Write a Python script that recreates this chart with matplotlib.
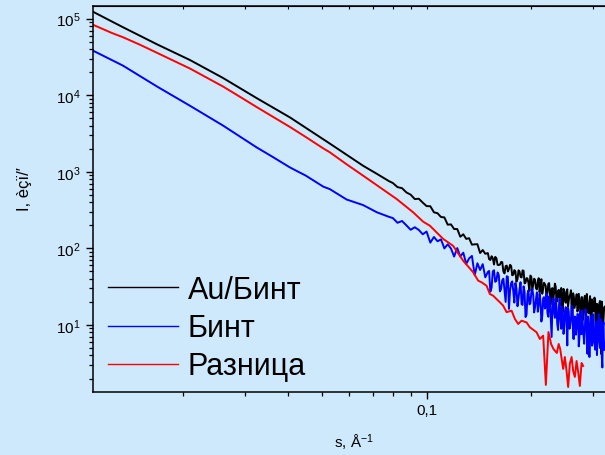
import matplotlib
matplotlib.use('Agg')
import matplotlib.pyplot as plt
from matplotlib.ticker import FixedLocator, FixedFormatter, LogLocator, NullFormatter, LogFormatterSciNotation
import numpy as np

# ---------------- data ----------------
s_low = [0.011, 0.0125, 0.0134, 0.015, 0.0168, 0.019, 0.0209, 0.023, 0.026, 0.029,
         0.0325, 0.036, 0.0405, 0.045, 0.0505, 0.0527, 0.0589, 0.0657, 0.072, 0.078]

black_low = [1.23e5, 9.12e4, 7.74e4, 5.98e4, 4.62e4, 3.54e4, 2.88e4, 2.27e4, 1.68e4, 1.25e4,
             9160, 7000, 5130, 3750, 2660, 2340, 1670, 1200, 940, 755]
blue_low = [3.82e4, 2.86e4, 2.44e4, 1.78e4, 1.30e4, 9370, 7280, 5610, 4020, 2910,
            2080, 1580, 1140, 890, 640, 595, 435, 368, 296, 258]
red_low = [8.32e4, 6.46e4, 5.73e4, 4.57e4, 3.58e4, 2.74e4, 2.23e4, 1.76e4, 1.30e4, 9620,
           7000, 5300, 3850, 2840, 2020, 1800, 1255, 891, 667, 518]

s_grid = [0.0800, 0.0825, 0.0850, 0.0875, 0.0900, 0.0925, 0.0950, 0.0975, 0.1000, 0.1025,
          0.1050, 0.1075, 0.1100, 0.1125, 0.1150, 0.1175, 0.1200, 0.1225, 0.1250, 0.1275,
          0.1300, 0.1325, 0.1350, 0.1375, 0.1400, 0.1425, 0.1450, 0.1475, 0.1500, 0.1525,
          0.1550, 0.1575, 0.1600, 0.1625, 0.1650, 0.1675, 0.1700, 0.1725, 0.1750, 0.1775,
          0.1800, 0.1825, 0.1850, 0.1875, 0.1900, 0.1925, 0.1950, 0.1975, 0.2000, 0.2025,
          0.2050, 0.2075, 0.2100, 0.2125, 0.2150, 0.2175, 0.2200, 0.2225, 0.2250, 0.2275,
          0.2300, 0.2325, 0.2350, 0.2375, 0.2400, 0.2425, 0.2450, 0.2475, 0.2500, 0.2525,
          0.2550, 0.2575, 0.2600, 0.2625, 0.2650, 0.2675, 0.2700, 0.2725, 0.2750, 0.2775,
          0.2800, 0.2825, 0.2850, 0.2875, 0.2900, 0.2925, 0.2950, 0.2975, 0.3000, 0.3025,
          0.3050, 0.3075, 0.3100, 0.3125, 0.3150, 0.3175, 0.3200, 0.3225, 0.3250]

black_grid = [714, 631, 612, 538, 503, 441, 445, 396, 357, 355,
              296, 288, 257, 254, 204, 206, 179, 179, 142, 153,
              133, 136, 112, 113, 113.5, 87.0, 95.3, 85.0, 86.9, 70.5,
              74.6, 77.4, 60.9, 61.4, 66.2, 47.1, 59.6, 53.7, 58.9, 45.5,
              50.1, 39.7, 49.8, 41.8, 50.9, 35.8, 40.4, 27.9, 42.6, 33.7,
              38.8, 29.1, 40.9, 32.0, 25.6, 35.6, 32.2, 26.2, 35.2, 18.6,
              30.3, 25.9, 31.6, 20.9, 28.7, 25.1, 17.8, 29.6, 20.9, 27.0,
              17.3, 23.8, 28.4, 13.3, 23.4, 18.9, 25.2, 15.9, 20.6, 10.4,
              23.0, 16.4, 24.0, 12.7, 19.4, 14.2, 23.8, 6.0, 19.9, 15.5,
              20.9, 10.1, 18.0, 11.4, 20.6, 4.2, 16.4, 12.1, 17.3]

blue_grid = [249, 216, 228, 200, 175, 189, 174, 153, 166, 119,
             141, 124, 131, 100, 113, 100, 78.3, 101, 78.5, 87.9,
             62.8, 74.0, 79.8, 44.7, 64.0, 52.3, 62.3, 41.9, 49.2, 27.3,
             50.1, 36.6, 48.5, 27.5, 38.4, 28.5, 43.3, 16.2, 35.2, 27.5,
             35.2, 17.6, 29.4, 18.7, 32.0, 12.7, 25.3, 18.6, 26.4, 24.7,
             17.1, 26.7, 18.3, 20.3, 13.1, 23.1, 17.8, 14.3, 23.6, 12.2,
             17.5, 14.7, 22.4, 10.2, 16.5, 11.8, 17.3, 7.66, 15.6, 11.1,
             16.7, 8.92, 12.1, 16.7, 6.56, 12.7, 9.88, 13.8, 6.98, 11.0,
             15.5, 7.35, 8.68, 13.2, 4.20, 11.3, 8.61, 13.2, 6.03, 9.31,
             4.76, 11.0, 6.80, 13.9, 5.01, 7.89, 2.79, 10.8, 5.75]

s_mid = [0.15125, 0.15375, 0.15625, 0.15875, 0.16125, 0.16375, 0.16625, 0.16875, 0.17125, 0.17375,
         0.17625, 0.17875, 0.18125, 0.18375, 0.18625, 0.18875, 0.19125, 0.19375, 0.19625, 0.19875,
         0.20125, 0.20375, 0.20625, 0.20875, 0.21125, 0.21375, 0.21625, 0.21875, 0.22125, 0.22375,
         0.22625, 0.22875, 0.23125, 0.23375, 0.23625, 0.23875, 0.24125, 0.24375, 0.24625, 0.24875,
         0.25125, 0.25375, 0.25625, 0.25875, 0.26125, 0.26375, 0.26625, 0.26875, 0.27125, 0.27375,
         0.27625, 0.27875, 0.28125, 0.28375, 0.28625, 0.28875, 0.29125, 0.29375, 0.29625, 0.29875,
         0.30125, 0.30375, 0.30625, 0.30875, 0.31125, 0.31375, 0.31625, 0.31875, 0.32125, 0.32375]

black_mid = [72.5, 79.0, 61.6, 74.3, 60.6, 66.4, 49.8, 58.7, 50.0, 61.0,
             44.6, 52.0, 36.7, 51.7, 42.5, 51.7, 34.9, 41.0, 35.6, 44.2,
             28.4, 40.2, 30.2, 36.6, 26.7, 39.6, 29.4, 34.2, 20.4, 34.5,
             25.3, 29.8, 22.2, 34.7, 20.0, 28.2, 22.6, 30.4, 14.7, 27.7,
             19.5, 29.3, 21.2, 25.2, 14.8, 26.0, 16.7, 21.4, 15.0, 25.5,
             17.2, 23.1, 11.6, 20.9, 13.8, 25.4, 14.8, 19.0, 11.4, 21.6,
             15.0, 22.8, 8.67, 18.9, 12.0, 19.2, 14.2, 20.2, 8.79, 16.7]

blue_mid = [50.8, 30.6, 51.9, 37.8, 44.8, 29.5, 40.2, 20.0, 42.6, 28.2,
            37.1, 19.6, 30.0, 22.3, 36.2, 18.3, 27.2, 13.6, 28.3, 19.2,
            29.6, 14.6, 21.8, 14.9, 25.7, 11.1, 22.3, 16.4, 25.6, 12.8,
            21.1, 6.98, 22.1, 12.4, 17.2, 8.61, 22.1, 8.93, 14.6, 9.81,
            17.1, 5.41, 14.8, 9.84, 17.8, 6.66, 12.9, 7.47, 13.9, 5.26,
            15.1, 7.58, 10.1, 5.69, 16.0, 7.94, 12.9, 3.82, 10.3, 5.36,
            13.8, 5.85, 9.08, 4.05, 10.7, 6.19, 11.9, 3.97, 9.47, 4.71]

red_mid_s = [0.082, 0.0915, 0.0978, 0.1022, 0.1116, 0.1192, 0.1274, 0.1361, 0.1407, 0.1439,
             0.1487, 0.1520, 0.1554, 0.1589, 0.1624, 0.1660, 0.1698, 0.1755, 0.1794, 0.1834,
             0.1875, 0.1938, 0.1981, 0.2071, 0.2116, 0.2163]
red_mid = [442, 296, 223, 198, 133, 108, 69.0, 48.8, 37.9, 36.1,
           32.6, 25.4, 24.1, 21.8, 19.8, 17.9, 14.7, 15.4, 12.0, 10.3,
           11.4, 10.8, 9.33, 8.03, 6.57, 7.25]

red_tail_s = [0.2202, 0.2240, 0.2280, 0.2315, 0.2368, 0.2397, 0.2421, 0.2469, 0.2497, 0.2525,
              0.2552, 0.2580, 0.2611, 0.2638, 0.2668, 0.2698, 0.2727, 0.2757, 0.2789, 0.2818]
red_tail = [1.65, 8.1, 5.65, 4.86, 4.31, 5.65, 4.86, 2.67, 3.82, 2.51,
            1.55, 3.10, 3.82, 2.51, 2.10, 3.39, 2.43, 1.60, 3.19, 2.92]

labels = ['Au/Бинт', 'Бинт', 'Разница']
x_major = [0.1]
x_major_labels = ['0,1']
y_major = [1e1, 1e2, 1e3, 1e4, 1e5]

# ---------------- styling ----------------
plt.rcParams['font.family'] = ['Liberation Sans', 'DejaVu Sans']
plt.rcParams['mathtext.fontset'] = 'custom'
plt.rcParams['mathtext.rm'] = 'Liberation Sans'
plt.rcParams['mathtext.it'] = 'Liberation Sans:italic'
plt.rcParams['mathtext.bf'] = 'Liberation Sans:bold'

BG = '#CEE9FB'
fig = plt.figure(figsize=(6.05, 4.56), dpi=100, facecolor=BG)
W, H = 605.0, 456.0
ax = fig.add_axes([93 / W, 63.3 / H, 576.8 / W, 385.4 / H])
ax.set_facecolor(BG)


def merged(s_parts, v_parts):
    s = np.concatenate([np.asarray(p, float) for p in s_parts])
    v = np.concatenate([np.asarray(p, float) for p in v_parts])
    order = np.argsort(s, kind='stable')
    return s[order], v[order]


s_black, I_black = merged([s_low, s_grid, s_mid], [black_low, black_grid, black_mid])
s_blue, I_blue = merged([s_low, s_grid, s_mid], [blue_low, blue_grid, blue_mid])
s_red, I_red = merged([s_low, red_mid_s, red_tail_s], [red_low, red_mid, red_tail])

ax.plot(s_black, I_black, color='#000000', lw=1.4, label=labels[0])
ax.plot(s_blue, I_blue, color='#0000FF', lw=1.4, label=labels[1])
ax.plot(s_red, I_red, color='#FF0000', lw=1.4, label=labels[2])

ax.set_xscale('log')
ax.set_yscale('log')
ax.set_xlim(0.011, 0.5)
ax.set_ylim(1.346, 1.449e5)

ax.xaxis.set_major_locator(FixedLocator(x_major))
ax.xaxis.set_major_formatter(FixedFormatter(x_major_labels))
ax.xaxis.set_minor_locator(LogLocator(base=10, subs=np.arange(2, 10)))
ax.xaxis.set_minor_formatter(NullFormatter())
ax.yaxis.set_major_locator(FixedLocator(y_major))
ax.yaxis.set_major_formatter(LogFormatterSciNotation())
ax.yaxis.set_minor_locator(LogLocator(base=10, subs=np.arange(2, 10)))
ax.yaxis.set_minor_formatter(NullFormatter())

for sp in ax.spines.values():
    sp.set_linewidth(1.1)
ax.tick_params(which='major', direction='out', length=5, width=1.0, labelsize=11, colors='black')
ax.tick_params(which='minor', direction='out', length=3, width=0.9)
ax.tick_params(axis='y', which='major', pad=4)
ax.tick_params(axis='x', which='major', pad=3)

top = ax.secondary_xaxis('top')
top.xaxis.set_major_locator(FixedLocator(x_major))
top.xaxis.set_minor_locator(LogLocator(base=10, subs=np.arange(2, 10)))
top.xaxis.set_major_formatter(NullFormatter())
top.xaxis.set_minor_formatter(NullFormatter())
top.tick_params(which='both', direction='in', length=2, width=0.8)

ax.set_xlabel('s, Å$^{-1}$', fontsize=11, va='baseline')
ax.xaxis.set_label_coords((354 - 93) / 576.8, (392.7 - 448) / 385.4)
ax.set_ylabel('I, èçï/′', fontsize=12, va='center')
ax.yaxis.set_label_coords((25 - 93) / 576.8, (392.7 - 189) / 385.4)

leg = ax.legend(loc='center left', bbox_to_anchor=(15.3 / 576.8, (392.7 - 329.2) / 385.4),
                frameon=False, fontsize=22, handlelength=2.27, handletextpad=0.33,
                labelspacing=0.27, borderpad=0, borderaxespad=0)
for ln in leg.get_lines():
    ln.set_linewidth(1.0)

fig.savefig('out.png', dpi=100, facecolor=BG)
